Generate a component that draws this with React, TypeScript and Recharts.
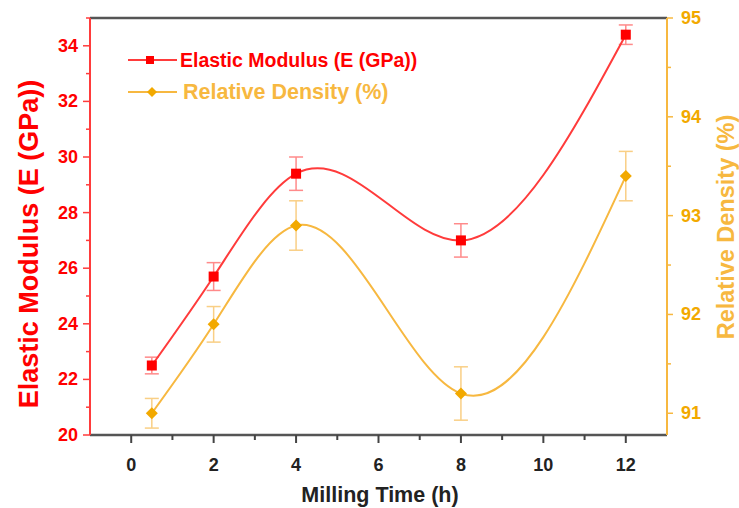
import React from 'react';
import { ComposedChart, Line, ErrorBar, XAxis, YAxis, ReferenceLine } from 'recharts';

// milling time (h)
const millingTime = [0.5, 2, 4, 8, 12];
// elastic modulus E (GPa) and its error
const modulus = [22.5, 25.7, 29.4, 27.0, 34.4];
const modulusErr = [0.3, 0.5, 0.6, 0.6, 0.35];
// relative density (%) and its error
const density = [91.0, 91.9, 92.9, 91.2, 93.4];
const densityErr = [0.15, 0.18, 0.25, 0.27, 0.25];

const xTicks = [0, 1, 2, 3, 4, 5, 6, 7, 8, 9, 10, 11, 12];
const leftTicks = [20, 21, 22, 23, 24, 25, 26, 27, 28, 29, 30, 31, 32, 33, 34, 35];
const rightTicks = [91, 91.5, 92, 92.5, 93, 93.5, 94, 94.5, 95];

const RED = '#ff0000';
const RED_LINE = '#ff3b3b';
const ORANGE = '#f2a900';
const ORANGE_LINE = '#f7b840';
const FONT = '"Liberation Sans", Arial, sans-serif';

const data = millingTime.map((t, i) => ({
  time: t,
  E: modulus[i],
  eErr: modulusErr[i],
  RD: density[i],
  rdErr: densityErr[i],
}));

// natural cubic spline with y as a function of x (like Origin's spline connector)
const splineX = (context: any) => {
  let xs: number[] = [];
  let ys: number[] = [];
  return {
    areaStart() {},
    areaEnd() {},
    lineStart() { xs = []; ys = []; },
    point(x: number, y: number) { xs.push(+x); ys.push(+y); },
    lineEnd() {
      const n = xs.length;
      if (n === 0) return;
      context.moveTo(xs[0], ys[0]);
      if (n === 1) return;
      const h: number[] = [];
      for (let i = 0; i < n - 1; i++) h.push(xs[i + 1] - xs[i]);
      // solve tridiagonal system for second derivatives
      const M = new Array(n).fill(0);
      if (n > 2) {
        const a: number[] = [], b: number[] = [], c: number[] = [], d: number[] = [];
        for (let i = 1; i < n - 1; i++) {
          a.push(h[i - 1]);
          b.push(2 * (h[i - 1] + h[i]));
          c.push(h[i]);
          d.push(6 * ((ys[i + 1] - ys[i]) / h[i] - (ys[i] - ys[i - 1]) / h[i - 1]));
        }
        const m = b.length;
        for (let i = 1; i < m; i++) {
          const w = a[i] / b[i - 1];
          b[i] -= w * c[i - 1];
          d[i] -= w * d[i - 1];
        }
        const sol = new Array(m).fill(0);
        sol[m - 1] = d[m - 1] / b[m - 1];
        for (let i = m - 2; i >= 0; i--) sol[i] = (d[i] - c[i] * sol[i + 1]) / b[i];
        for (let i = 0; i < m; i++) M[i + 1] = sol[i];
      }
      for (let i = 0; i < n - 1; i++) {
        const s = (ys[i + 1] - ys[i]) / h[i];
        const d0 = s - (h[i] * (2 * M[i] + M[i + 1])) / 6;
        const d1 = s + (h[i] * (M[i] + 2 * M[i + 1])) / 6;
        context.bezierCurveTo(
          xs[i] + h[i] / 3, ys[i] + (d0 * h[i]) / 3,
          xs[i + 1] - h[i] / 3, ys[i + 1] - (d1 * h[i]) / 3,
          xs[i + 1], ys[i + 1]
        );
      }
    },
  };
};

const LeftTick = (props: any) => {
  const { x, y, payload } = props;
  const major = payload.value % 2 === 0;
  return (
    <g>
      <line x1={x} x2={x - (major ? 7 : 4)} y1={y} y2={y} stroke={RED_LINE} strokeWidth={1.5} />
      {major && (
        <text x={x - 12} y={y} textAnchor="end" dominantBaseline="central" fill={RED}
          fontWeight="bold" fontSize={18} fontFamily={FONT}>{payload.value}</text>
      )}
    </g>
  );
};

const RightTick = (props: any) => {
  const { x, y, payload } = props;
  const major = Number.isInteger(payload.value);
  return (
    <g>
      <line x1={x} x2={x + (major ? 6 : 4)} y1={y} y2={y} stroke={ORANGE_LINE} strokeWidth={1.5} />
      {major && (
        <text x={x + 14} y={y} textAnchor="start" dominantBaseline="central" fill={ORANGE}
          fontWeight="bold" fontSize={18} fontFamily={FONT}>{payload.value}</text>
      )}
    </g>
  );
};

const BottomTick = (props: any) => {
  const { x, y, payload } = props;
  const major = payload.value % 2 === 0;
  return (
    <g>
      <line x1={x} x2={x} y1={y} y2={y + (major ? 8 : 5)} stroke="#444" strokeWidth={2} />
      {major && (
        <text x={x} y={y + 30} textAnchor="middle" dominantBaseline="central" fill="#222"
          fontWeight="bold" fontSize={18} fontFamily={FONT}>{payload.value}</text>
      )}
    </g>
  );
};

const SquareDot = (p: any) => (
  <rect key={`sq-${p.index}`} x={p.cx - 5} y={p.cy - 5} width={10} height={10} fill={RED} />
);

const DiamondDot = (p: any) => (
  <polygon key={`dm-${p.index}`}
    points={`${p.cx},${p.cy - 6} ${p.cx + 6},${p.cy} ${p.cx},${p.cy + 6} ${p.cx - 6},${p.cy}`}
    fill={ORANGE} />
);

const ChartLegend = () => (
  <svg width={340} height={70} style={{ position: 'absolute', left: 110, top: 40 }}>
    <line x1={18} x2={67} y1={20} y2={20} stroke={RED_LINE} strokeWidth={2} />
    <rect x={36} y={16} width={8} height={8} fill={RED} />
    <text x={70} y={20} dominantBaseline="central" fill={RED} fontWeight="bold" fontSize={19.5} fontFamily={FONT}>
      Elastic Modulus (E (GPa))
    </text>
    <line x1={18} x2={67} y1={52} y2={52} stroke={ORANGE_LINE} strokeWidth={2} />
    <polygon points="42,47 47,52 42,57 37,52" fill={ORANGE} />
    <text x={73} y={52} dominantBaseline="central" fill={ORANGE_LINE} fontWeight="bold" fontSize={21.5} fontFamily={FONT}>
      Relative Density (%)
    </text>
  </svg>
);

export default function App() {
  return (
    <div style={{ position: 'absolute', left: 0, top: 0, width: 739, height: 508, background: '#fff' }}>
      <ComposedChart width={739} height={508} data={data} margin={{ top: 18, right: 0, bottom: 0, left: 0 }}>
        <XAxis
          dataKey="time"
          type="number"
          domain={[-1, 13]}
          ticks={xTicks}
          interval={0}
          height={73}
          tickSize={0}
          tickMargin={0}
          tick={<BottomTick />}
          axisLine={{ stroke: '#555', strokeWidth: 2.5 }}
          label={{
            content: () => (
              <text x={380} y={495} textAnchor="middle" dominantBaseline="central" fill="#222"
                fontWeight="bold" fontSize={21.5} fontFamily={FONT}>Milling Time (h)</text>
            ),
          }}
        />
        <YAxis
          yAxisId="left"
          domain={[20, 35]}
          ticks={leftTicks}
          interval={0}
          width={90}
          tickSize={0}
          tickMargin={0}
          tick={<LeftTick />}
          axisLine={{ stroke: RED_LINE, strokeWidth: 2 }}
          label={{
            content: () => (
              <text x={29} y={244} transform="rotate(-90, 29, 244)" textAnchor="middle" dominantBaseline="central"
                fill={RED} fontWeight="bold" fontSize={27} fontFamily={FONT}>Elastic Modulus (E (GPa))</text>
            ),
          }}
        />
        <YAxis
          yAxisId="right"
          orientation="right"
          domain={[90.78, 95]}
          allowDataOverflow
          ticks={rightTicks}
          interval={0}
          width={72}
          tickSize={0}
          tickMargin={0}
          tick={<RightTick />}
          axisLine={{ stroke: ORANGE_LINE, strokeWidth: 2 }}
          label={{
            content: () => (
              <text x={726} y={227} transform="rotate(-90, 726, 227)" textAnchor="middle" dominantBaseline="central"
                fill={ORANGE_LINE} fontWeight="bold" fontSize={23.5} fontFamily={FONT}>Relative Density (%)</text>
            ),
          }}
        />
        <ReferenceLine yAxisId="left" y={35} stroke="#555" strokeWidth={2.5} />
        <Line
          yAxisId="left"
          type={splineX as any}
          dataKey="E"
          stroke={RED_LINE}
          strokeWidth={2}
          dot={SquareDot}
          activeDot={false}
          isAnimationActive={false}
        >
          <ErrorBar dataKey="eErr" width={7} stroke="#ff8a8a" strokeWidth={1.5} direction="y" isAnimationActive={false} />
        </Line>
        <Line
          yAxisId="right"
          type={splineX as any}
          dataKey="RD"
          stroke={ORANGE_LINE}
          strokeWidth={2}
          dot={DiamondDot}
          activeDot={false}
          isAnimationActive={false}
        >
          <ErrorBar dataKey="rdErr" width={7} stroke="#f9cf85" strokeWidth={1.5} direction="y" isAnimationActive={false} />
        </Line>
      </ComposedChart>
      <ChartLegend />
    </div>
  );
}
